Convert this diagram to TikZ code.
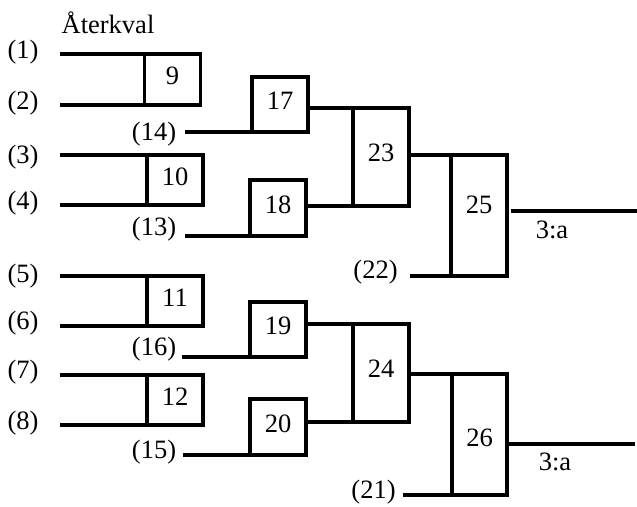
\documentclass[tikz,border=0pt]{standalone}
\usepackage{fontspec}
\setmainfont{Liberation Serif}
\begin{document}
\begin{tikzpicture}[x=1pt,y=-1pt,
  font=\fontsize{26.5}{31}\selectfont,
  every path/.style={line width=3.2pt},
  box/.style={draw,line width=3.2pt,rectangle,inner sep=0pt,outer sep=0pt,
    minimum width=56pt,text height=18pt,text depth=8pt},
  lbl/.style={inner sep=0pt,anchor=center}]
\useasboundingbox (0,0) rectangle (637,506);
% boxes
\node[box,minimum height=51pt] (b9)  at (172.5,79.5) {9};
\node[box,minimum height=50pt] (b10) at (175,180) {10};
\node[box,minimum height=50pt] (b11) at (175,301) {11};
\node[box,minimum height=50pt] (b12) at (175,400) {12};
\node[box,minimum height=55pt] (b17) at (280,104.5) {17};
\node[box,minimum height=56pt] (b18) at (278,208) {18};
\node[box,minimum height=55pt] (b19) at (278,329.5) {19};
\node[box,minimum height=56pt] (b20) at (278,427) {20};
\node[box,minimum height=98pt,text depth=9pt] (b23) at (381,157) {23};
\node[box,minimum height=98pt,text depth=10pt] (b24) at (381,373) {24};
\node[box,minimum height=121pt,text depth=22pt] (b25) at (479,215.5) {25};
\node[box,minimum height=121pt,minimum width=55pt,text height=23pt,text depth=0pt] (b26) at (479.5,434.5) {26};
% labels
\node[lbl] (t0) at (108,23) {Återkval};
\node[lbl] (l1) at (23,52) {(1)};
\node[lbl] (l2) at (23,103) {(2)};
\node[lbl] (l3) at (23,157) {(3)};
\node[lbl] (l4) at (23,203) {(4)};
\node[lbl] (l5) at (23,276) {(5)};
\node[lbl] (l6) at (23,323) {(6)};
\node[lbl] (l7) at (23,372) {(7)};
\node[lbl] (l8) at (23,423) {(8)};
\node[lbl] (l14) at (154,134) {(14)};
\node[lbl] (l13) at (154,229) {(13)};
\node[lbl] (l16) at (154,349) {(16)};
\node[lbl] (l15) at (154,452) {(15)};
\node[lbl] (l22) at (375.5,272) {(22)};
\node[lbl] (l21) at (373.5,492) {(21)};
\node[lbl] (a25) at (552,230) {3:a};
\node[lbl] (a26) at (555,462) {3:a};
% free ends
\coordinate (s1) at (60,54);
\coordinate (s2) at (60,105);
\coordinate (s3) at (60,155);
\coordinate (s4) at (60,205);
\coordinate (s5) at (60,276);
\coordinate (s6) at (60,326);
\coordinate (s7) at (60,375);
\coordinate (s8) at (60,425);
\coordinate (s14) at (185,132);
\coordinate (s13) at (185,236);
\coordinate (s16) at (182,357);
\coordinate (s15) at (183,455);
\coordinate (s22) at (410,276);
\coordinate (s21) at (403,495);
\coordinate (o25a) at (511,211);
\coordinate (o25b) at (637,211);
\coordinate (o26a) at (508,444);
\coordinate (o26b) at (635,444);
% wires
\draw (s1) -- (s1 -| b9.west);
\draw (s2) -- (s2 -| b9.west);
\draw (s3) -- (s3 -| b10.west);
\draw (s4) -- (s4 -| b10.west);
\draw (s5) -- (s5 -| b11.west);
\draw (s6) -- (s6 -| b11.west);
\draw (s7) -- (s7 -| b12.west);
\draw (s8) -- (s8 -| b12.west);
\draw (s14) -- (s14 -| b17.west);
\draw (s13) -- (s13 -| b18.west);
\draw (s16) -- (s16 -| b19.west);
\draw (s15) -- (s15 -| b20.west);
\draw (b17.east |- b23.north west) -- (b23.north west);
\draw (b18.east |- b23.south west) -- (b23.south west);
\draw (b19.east |- b24.north west) -- (b24.north west);
\draw (b20.east |- b24.south west) -- (b24.south west);
\draw (b23.east |- b25.north west) -- (b25.north west);
\draw (b24.east |- b26.north west) -- (b26.north west);
\draw (s22) -- (s22 -| b25.west);
\draw (s21) -- (s21 -| b26.west);
\draw (o25a) -- (o25b);
\draw (o26a) -- (o26b);
\end{tikzpicture}
\end{document}
